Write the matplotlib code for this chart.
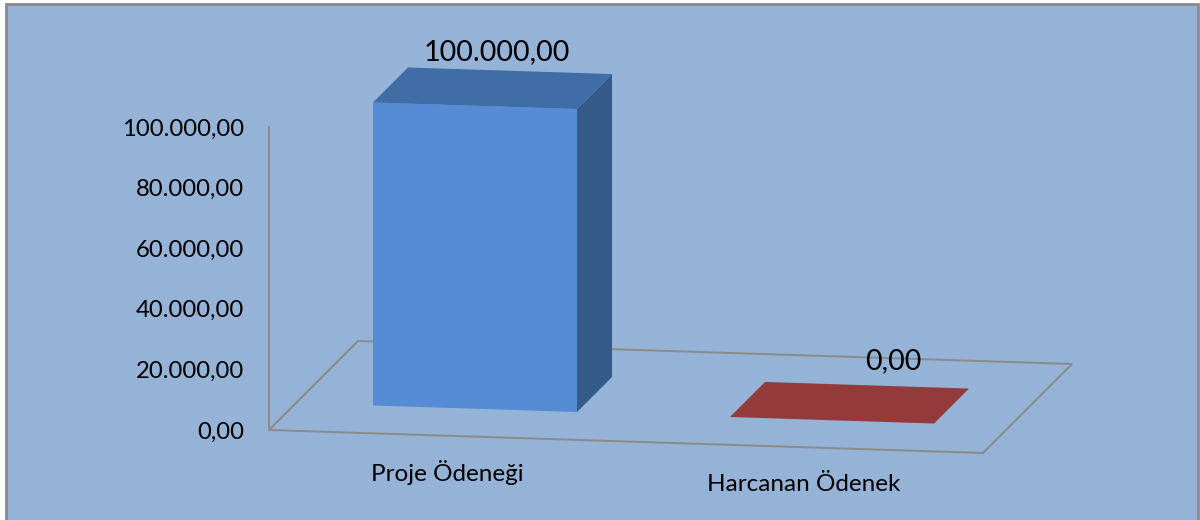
import matplotlib
matplotlib.use('Agg')
import matplotlib.pyplot as plt
from matplotlib.patches import Polygon, Rectangle

plt.rcParams['font.family'] = ['Lato', 'DejaVu Sans']

# Data
categories = ['Proje Ödeneği', 'Harcanan Ödenek']
values = [100000, 0]
y_ticks = [0, 20000, 40000, 60000, 80000, 100000]


def money(v):
    # Turkish number format: 100.000,00
    return f'{v:,.2f}'.replace(',', '#').replace('.', ',').replace('#', '.')


# Layout of the fake 3D chart, in pixels
zero_y = 430
unit = 100000 / 303      # value per pixel
slope = 0.0322           # floor tilt
floor_x = (269, 983)
floor_depth = 89
bar_x = [346, 703]
bar_w = 204
bar_d = (27, 62)

front = ['#568CD6', '#943A3A']
top = ['#3F6DA6', '#943A3A']
side = ['#345A88', '#943A3A']
line_col = '#8A8A8A'
bg = '#95B3D7'

fig = plt.figure(figsize=(12, 5.2), dpi=100, facecolor='white')
ax = fig.add_axes([0, 0, 1, 1], facecolor='white')
ax.set_xlim(0, 1200)
ax.set_ylim((zero_y - 520) * unit, zero_y * unit)


def pt(x, d, v):
    # project floor position x, depth d and value v to axes data coordinates
    y_px = zero_y + (x - floor_x[0]) * slope - d
    return (x + d, (zero_y - y_px) * unit + v)


# Background panel with grey border
ax.add_patch(Rectangle((6, (zero_y - 530) * unit), 1192, 526 * unit,
                       facecolor=bg, edgecolor=line_col, linewidth=2, zorder=0))

# Floor
x0, x1 = floor_x
floor = [pt(x0, 0, 0), pt(x1, 0, 0), pt(x1, floor_depth, 0), pt(x0, floor_depth, 0)]
ax.add_patch(Polygon(floor, closed=True, fill=False, edgecolor=line_col, linewidth=1.4, zorder=1))

# Bars
for i, v in enumerate(values):
    xa, xb = bar_x[i], bar_x[i] + bar_w
    d0, d1 = bar_d
    if v > 0:
        ax.add_patch(Polygon([pt(xa, d0, 0), pt(xb, d0, 0), pt(xb, d0, v), pt(xa, d0, v)],
                             facecolor=front[i], edgecolor='none', zorder=2))
        ax.add_patch(Polygon([pt(xb, d0, 0), pt(xb, d1, 0), pt(xb, d1, v), pt(xb, d0, v)],
                             facecolor=side[i], edgecolor='none', zorder=2))
    ax.add_patch(Polygon([pt(xa, d0, v), pt(xb, d0, v), pt(xb, d1, v), pt(xa, d1, v)],
                         facecolor=top[i], edgecolor='none', zorder=2))

# Value labels above the bars
label_shift = [(-13, 19), (26, 24)]
for i, v in enumerate(values):
    lx, ly = pt(bar_x[i] + bar_w / 2, bar_d[1], v)
    ax.text(lx + label_shift[i][0], ly + label_shift[i][1] * unit, money(v),
            fontsize=20.6, ha='center', va='center', color='black', zorder=3)

# Category labels below the floor
for i, name in enumerate(categories):
    lx, ly = pt(bar_x[i] + bar_w / 2, 0, 0)
    ax.text(lx - 1, ly - 37 * unit, name, fontsize=17.5, ha='center', va='center', color='black', zorder=3)

# Value axis
for s in ['top', 'right', 'bottom']:
    ax.spines[s].set_visible(False)
ax.spines['left'].set_position(('data', floor_x[0]))
ax.spines['left'].set_bounds(0, 100000)
ax.spines['left'].set_color(line_col)
ax.spines['left'].set_linewidth(1.4)
ax.set_xticks([])
ax.set_yticks(y_ticks)
ax.set_yticklabels([money(t) for t in y_ticks], fontsize=17.2)
ax.tick_params(axis='y', length=0, pad=18)

fig.savefig('out.png', dpi=100)
